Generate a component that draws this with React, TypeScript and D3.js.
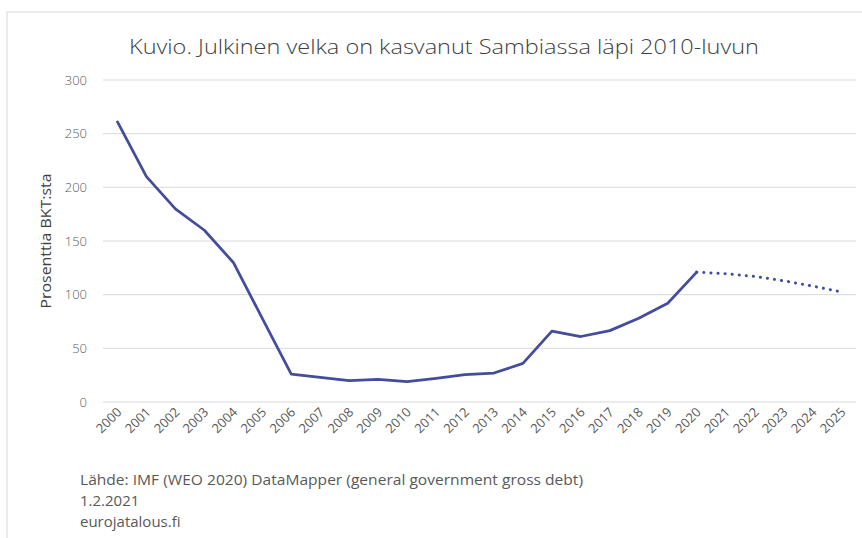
import React from "react";
import * as d3 from "d3";

const years = [
  "2000", "2001", "2002", "2003", "2004", "2005", "2006", "2007", "2008",
  "2009", "2010", "2011", "2012", "2013", "2014", "2015", "2016", "2017",
  "2018", "2019", "2020", "2021", "2022", "2023", "2024", "2025",
];

// Actual values 2000-2020
const actual = [
  261, 210, 180, 160, 130, 78, 26, 23, 20, 21, 19, 22, 25.5, 27, 36, 66,
  61, 66.5, 78, 92, 121,
];

// IMF forecast 2020-2025
const forecast = [121, 119.5, 117, 113, 108, 102.5];

const yTicks = [0, 50, 100, 150, 200, 250, 300];

const footer = [
  "Lähde: IMF (WEO 2020) DataMapper (general government gross debt)",
  "1.2.2021",
  "eurojatalous.fi",
];

const width = 862;
const height = 538;
const lineColor = "#434d9c";
const font = "'Open Sans', 'DejaVu Sans', sans-serif";

export default function App() {
  const x = d3.scalePoint().domain(years).range([103, 856]).padding(0.5);
  const y = d3.scaleLinear().domain([0, 300]).range([402, 80]);

  const line = d3
    .line<number>()
    .x((_, i) => x(years[i]) as number)
    .y((d) => y(d));

  const fcLine = d3
    .line<number>()
    .x((_, i) => x(years[i + 20]) as number)
    .y((d) => y(d));

  return (
    <svg
      width={width}
      height={height}
      style={{ position: "absolute", left: 0, top: 0, background: "#fff" }}
      fontFamily={font}
    >
      <rect x={7} y={12} width={900} height={600} fill="#fff" stroke="#d9d9d9" />

      <text
        x={444}
        y={54}
        textAnchor="middle"
        fontSize={21}
        fill="#404040"
        fontWeight={300}
        textLength={630}
        lengthAdjust="spacingAndGlyphs"
      >
        Kuvio. Julkinen velka on kasvanut Sambiassa läpi 2010-luvun
      </text>

      {yTicks.map((t) => (
        <g key={t}>
          <line x1={103} x2={856} y1={y(t)} y2={y(t)} stroke="#d9d9d9" strokeWidth={1} />
          <text
            x={87}
            y={y(t)}
            dy="0.35em"
            textAnchor="end"
            fontSize={13}
            fill="#595959"
            fontWeight={300}
          >
            {t}
          </text>
        </g>
      ))}

      <text
        transform={`translate(51,241) rotate(-90)`}
        textAnchor="middle"
        fontSize={14}
        fill="#404040"
        textLength={135}
        lengthAdjust="spacingAndGlyphs"
      >
        Prosenttia BKT:sta
      </text>

      {years.map((yr) => (
        <text
          key={yr}
          transform={`translate(${(x(yr) as number) + 5},${413}) rotate(-45)`}
          textAnchor="end"
          fontSize={13}
          fill="#595959"
        >
          {yr}
        </text>
      ))}

      <path
        d={line(actual) || ""}
        fill="none"
        stroke={lineColor}
        strokeWidth={2.75}
        strokeLinejoin="round"
        strokeLinecap="round"
      />
      <path
        d={fcLine(forecast) || ""}
        fill="none"
        stroke={lineColor}
        strokeWidth={3}
        strokeDasharray="0.1 7"
        strokeLinecap="round"
      />

      {footer.map((s, i) => (
        <text
          key={i}
          x={80}
          y={485 + i * 21}
          fontSize={15}
          fill="#595959"
          textLength={i === 0 ? 503 : undefined}
          lengthAdjust="spacingAndGlyphs"
        >
          {s}
        </text>
      ))}
    </svg>
  );
}
